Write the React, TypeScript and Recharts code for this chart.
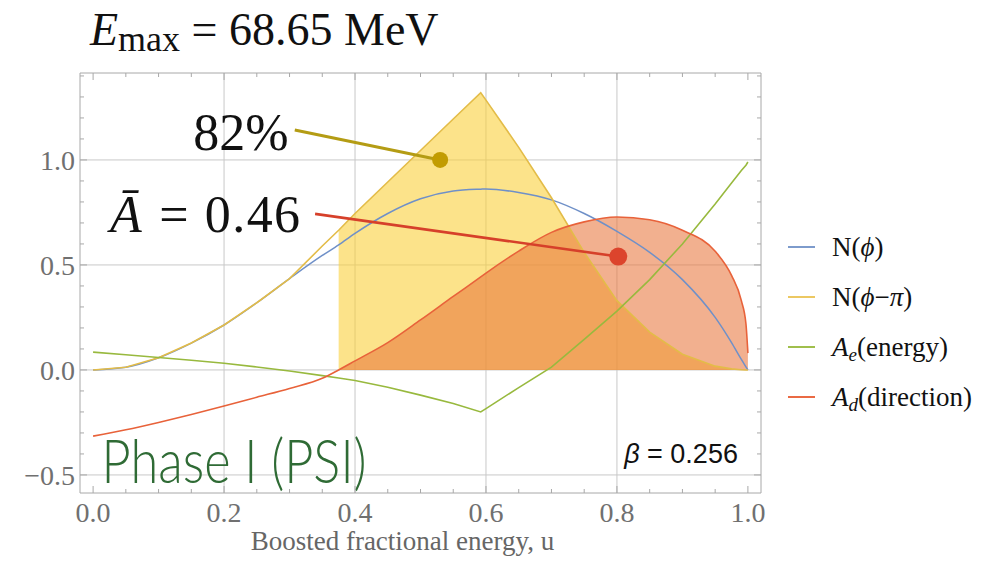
import React from 'react'
import {
  ComposedChart,
  Line,
  Area,
  XAxis,
  YAxis,
  CartesianGrid,
  ReferenceLine,
  ReferenceDot,
  Label,
} from 'recharts'

// boosted fractional energy u
const uValues = [
  0, 0.05, 0.1, 0.15, 0.2, 0.25, 0.3, 0.35, 0.375, 0.4, 0.45, 0.5, 0.55, 0.592, 0.6, 0.65, 0.7, 0.75, 0.8,
  0.85, 0.9, 0.95, 0.975, 0.99, 0.997, 1.0,
]
// N(phi)
const nPhi = [
  0, 0.013, 0.058, 0.128, 0.214, 0.32, 0.435, 0.545, 0.595, 0.65, 0.745, 0.815, 0.852, 0.861, 0.862, 0.845,
  0.81, 0.745, 0.66, 0.56, 0.43, 0.25, 0.13, 0.05, 0.015, 0,
]
// N(phi - pi)
const nPhiPi = [
  0, 0.013, 0.058, 0.128, 0.214, 0.32, 0.435, 0.59, 0.665, 0.745, 0.895, 1.045, 1.195, 1.32, 1.285, 1.06, 0.82,
  0.56, 0.33, 0.18, 0.075, 0.018, 0.005, 0.001, 0, 0,
]
// A_e (energy)
const aEnergy = [
  0.085, 0.072, 0.059, 0.046, 0.032, 0.014, -0.005, -0.027, -0.038, -0.05, -0.082, -0.12, -0.16, -0.2, -0.184,
  -0.084, 0.013, 0.146, 0.28, 0.43, 0.6, 0.79, 0.89, 0.95, 0.975, 0.99,
]
// A_d (direction)
const aDirection = [
  -0.315, -0.285, -0.25, -0.212, -0.172, -0.13, -0.088, -0.04, 0, 0.043, 0.13, 0.238, 0.35, 0.443, 0.461, 0.566,
  0.655, 0.705, 0.728, 0.715, 0.665, 0.565, 0.45, 0.33, 0.22, 0.08,
]
const fillStart = 0.375

const xTicks = [
  0, 0.05, 0.1, 0.15, 0.2, 0.25, 0.3, 0.35, 0.4, 0.45, 0.5, 0.55, 0.6, 0.65, 0.7, 0.75, 0.8, 0.85, 0.9, 0.95, 1.0,
]
const yTicks = [
  -0.5, -0.4, -0.3, -0.2, -0.1, 0, 0.1, 0.2, 0.3, 0.4, 0.5, 0.6, 0.7, 0.8, 0.9, 1.0, 1.1, 1.2, 1.3, 1.4,
]
const xGrid = [0.2, 0.4, 0.6, 0.8]
const yGrid = [-0.5, 0, 0.5, 1.0]

// annotation anchors, in data units
const pctAnchor = { u: 0.153, v: 1.048 }
const pctLine = [{ x: 0.308, y: 1.143 }, { x: 0.53, y: 1.0 }]
const meanAnchor = { u: 0.026, v: 0.657 }
const meanLine = [{ x: 0.339, y: 0.743 }, { x: 0.802, y: 0.54 }]
const betaAnchor = { u: 0.811, v: -0.443 }
const phaseAnchor = { u: 0.013, v: -0.54 }

const data = uValues.map((u, i) => ({
  u,
  nPhi: nPhi[i],
  nPhiPi: nPhiPi[i],
  nPhiPiFill: u >= fillStart ? nPhiPi[i] : null,
  aEnergy: aEnergy[i],
  aDirection: aDirection[i],
  aDirectionFill: u >= fillStart ? aDirection[i] : null,
}))

const FRAME = '#a8a8a8'
const TICK_TEXT = '#707070'
const SERIF = '"Liberation Serif", "Times New Roman", serif'

const onStep = (v: number, step: number) => Math.abs(v / step - Math.round(v / step)) < 1e-6
const fmt = (v: number) => (v < 0 ? '\u2212' : '') + Math.abs(v).toFixed(1)

const BottomTick = ({ x, y, payload }: any) => {
  const major = onStep(payload.value, 0.2)
  return (
    <g>
      <line x1={x} x2={x} y1={y} y2={y - (major ? 7 : 4)} stroke={FRAME} />
      {major && (
        <text x={x} y={y + 29} textAnchor="middle" fontFamily={SERIF} fontSize={28} fill={TICK_TEXT}>
          {fmt(payload.value)}
        </text>
      )}
    </g>
  )
}

const TopTick = ({ x, y, payload }: any) => {
  const major = onStep(payload.value, 0.2)
  return <line x1={x} x2={x} y1={y} y2={y + (major ? 7 : 4)} stroke={FRAME} />
}

const LeftTick = ({ x, y, payload }: any) => {
  const major = onStep(payload.value, 0.5)
  return (
    <g>
      <line x1={x} x2={x + (major ? 7 : 4)} y1={y} y2={y} stroke={FRAME} />
      {major && (
        <text x={x - 5} y={y + 10} textAnchor="end" fontFamily={SERIF} fontSize={28} fill={TICK_TEXT}>
          {fmt(payload.value)}
        </text>
      )}
    </g>
  )
}

const RightTick = ({ x, y, payload }: any) => {
  const major = onStep(payload.value, 0.5)
  return <line x1={x} x2={x - (major ? 7 : 4)} y1={y} y2={y} stroke={FRAME} />
}

const textAt = (node: React.ReactNode, style: any) => (props: any) => {
  const vb = props.viewBox || {}
  const x = (vb.x ?? 0) + (vb.width ?? 0) / 2
  const y = (vb.y ?? 0) + (vb.height ?? 0) / 2
  return (
    <text x={x} y={y} textAnchor="start" {...style}>
      {node}
    </text>
  )
}

const legendRows = [
  { color: '#7d9bcc', y: 248, label: <>N(<tspan fontStyle="italic">ϕ</tspan>)</> },
  {
    color: '#ecc862',
    y: 298,
    label: (
      <>
        N(<tspan fontStyle="italic">ϕ</tspan>−<tspan fontStyle="italic">π</tspan>)
      </>
    ),
  },
  {
    color: '#a0bf4c',
    y: 348,
    label: (
      <>
        <tspan fontStyle="italic">A</tspan>
        <tspan fontStyle="italic" fontSize={19} dy={5}>e</tspan>
        <tspan dy={-5}>(energy)</tspan>
      </>
    ),
  },
  {
    color: '#ea6a44',
    y: 398,
    label: (
      <>
        <tspan fontStyle="italic">A</tspan>
        <tspan fontStyle="italic" fontSize={19} dy={5}>d</tspan>
        <tspan dy={-5}>(direction)</tspan>
      </>
    ),
  },
]

export default function App() {
  return (
    <div style={{ position: 'relative', width: 976, height: 548 }}>
      <div
        style={{
          position: 'absolute',
          left: 82,
          top: -1,
          fontFamily: SERIF,
          fontSize: 46,
          lineHeight: '46px',
          color: '#111',
          whiteSpace: 'nowrap',
        }}
      >
        <i>E</i>
        <span style={{ fontSize: 36, position: 'relative', top: 6 }}>max</span> = 68.65 MeV
      </div>
      <ComposedChart
        width={976}
        height={548}
        data={data}
        margin={{ top: 60, right: 218, bottom: 23, left: 10 }}
      >
        <CartesianGrid stroke="#c8c8c8" verticalValues={xGrid} horizontalValues={yGrid} />
        <XAxis
          dataKey="u"
          type="number"
          domain={[-0.02, 1.02]}
          allowDataOverflow
          ticks={xTicks}
          interval={0}
          tick={<BottomTick />}
          tickLine={false}
          tickSize={0}
          tickMargin={0}
          height={40}
          axisLine={{ stroke: FRAME }}
        >
          <Label
            content={(p: any) => {
              const vb = p.viewBox || {}
              return (
                <text
                  x={vb.x + vb.width / 2 - 18}
                  y={vb.y + vb.height + 17}
                  textAnchor="middle"
                  fontFamily={SERIF}
                  fontSize={27}
                  fill="#666"
                >
                  Boosted fractional energy, u
                </text>
              )
            }}
          />
        </XAxis>
        <XAxis
          xAxisId="top"
          orientation="top"
          dataKey="u"
          type="number"
          domain={[-0.02, 1.02]}
          allowDataOverflow
          ticks={xTicks}
          interval={0}
          tick={<TopTick />}
          tickLine={false}
          tickSize={0}
          tickMargin={0}
          height={5}
          axisLine={{ stroke: FRAME }}
        />
        <YAxis
          type="number"
          domain={[-0.586, 1.414]}
          allowDataOverflow
          ticks={yTicks}
          interval={0}
          tick={<LeftTick />}
          tickLine={false}
          tickSize={0}
          tickMargin={0}
          width={62}
          axisLine={{ stroke: FRAME }}
        />
        <YAxis
          yAxisId="right"
          orientation="right"
          type="number"
          domain={[-0.586, 1.414]}
          allowDataOverflow
          ticks={yTicks}
          interval={0}
          tick={<RightTick />}
          tickLine={false}
          tickSize={0}
          tickMargin={0}
          width={5}
          axisLine={{ stroke: FRAME }}
        />

        <Area
          dataKey="nPhiPiFill"
          type="linear"
          fill="#fad03c"
          fillOpacity={0.6}
          stroke="none"
          baseValue={0}
          isAnimationActive={false}
        />
        <Area
          dataKey="aDirectionFill"
          type="monotone"
          fill="#e8743a"
          fillOpacity={0.57}
          stroke="none"
          baseValue={0}
          isAnimationActive={false}
        />
        <Line dataKey="nPhi" type="monotone" stroke="#6f90c8" strokeWidth={1.5} dot={false} isAnimationActive={false} />
        <Line dataKey="nPhiPi" type="linear" stroke="#e3bc48" strokeWidth={1.6} dot={false} isAnimationActive={false} />
        <Line dataKey="aEnergy" type="linear" stroke="#98b93e" strokeWidth={1.6} dot={false} isAnimationActive={false} />
        <Line dataKey="aDirection" type="monotone" stroke="#e8623a" strokeWidth={1.6} dot={false} isAnimationActive={false} />

        <ReferenceLine segment={pctLine} stroke="#b49c14" strokeWidth={3} ifOverflow="visible" />
        <ReferenceDot x={pctLine[1].x} y={pctLine[1].y} r={8} fill="#c29c02" stroke="none" />
        <ReferenceLine segment={meanLine} stroke="#d6402a" strokeWidth={2.6} ifOverflow="visible" />
        <ReferenceDot x={meanLine[1].x} y={meanLine[1].y} r={9} fill="#dc442c" stroke="none" />

        <ReferenceDot
          x={pctAnchor.u}
          y={pctAnchor.v}
          r={0.5}
          fill="none"
          stroke="none"
          label={textAt('82%', { fontFamily: SERIF, fontSize: 52, fill: '#111' })}
        />
        <ReferenceDot
          x={meanAnchor.u}
          y={meanAnchor.v}
          r={0.5}
          fill="none"
          stroke="none"
          label={textAt(
            <>
              <tspan fontStyle="italic">A{'\u0304'}</tspan> = 0.46
            </>,
            { fontFamily: SERIF, fontSize: 52, fill: '#111', textLength: 190 },
          )}
        />
        <ReferenceDot
          x={betaAnchor.u}
          y={betaAnchor.v}
          r={0.5}
          fill="none"
          stroke="none"
          label={textAt(
            <>
              <tspan fontStyle="italic">β</tspan> = 0.256
            </>,
            { fontFamily: '"Liberation Sans", Arial, sans-serif', fontSize: 27, fill: '#111' },
          )}
        />
        <ReferenceDot
          x={phaseAnchor.u}
          y={phaseAnchor.v}
          r={0.5}
          fill="none"
          stroke="none"
          label={textAt('Phase I (PSI)', {
            fontFamily: 'Lato, "Open Sans", sans-serif',
            fontWeight: 300,
            fontSize: 62,
            fill: '#2f6b35',
            textLength: 265,
            lengthAdjust: 'spacingAndGlyphs',
          })}
        />

        <g>
          {legendRows.map((r) => (
            <g key={r.y}>
              <line x1={780} x2={807} y1={r.y - 9} y2={r.y - 9} stroke={r.color} strokeWidth={2} />
              <text x={824} y={r.y} fontFamily={SERIF} fontSize={27} fill="#111">
                {r.label}
              </text>
            </g>
          ))}
        </g>
      </ComposedChart>
    </div>
  )
}
